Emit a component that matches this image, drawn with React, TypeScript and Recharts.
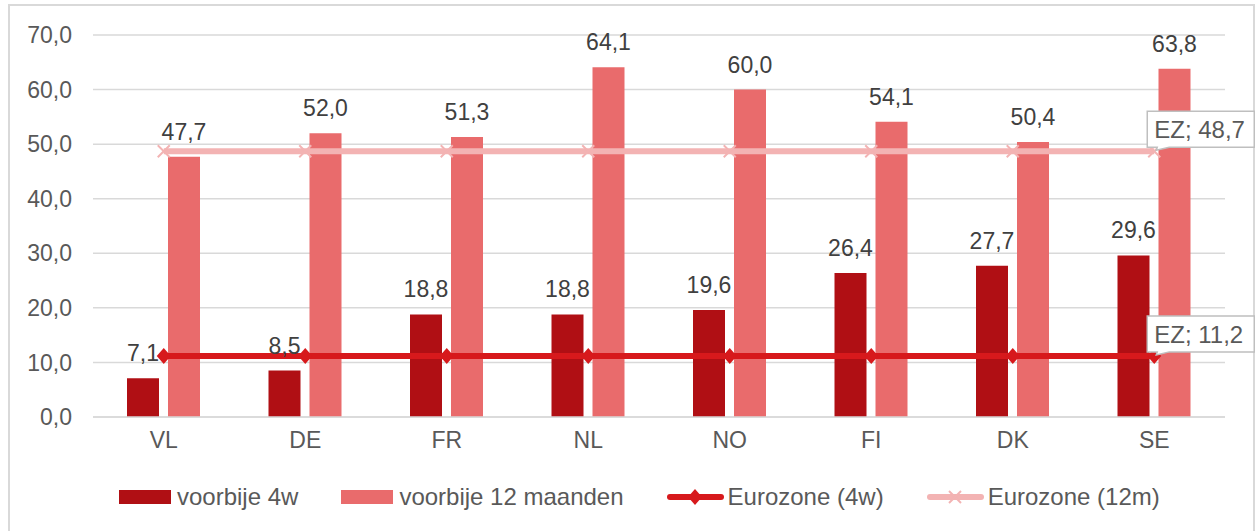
import { ComposedChart, Bar, Line, XAxis, YAxis, CartesianGrid, LabelList } from 'recharts';

const categories = ['VL', 'DE', 'FR', 'NL', 'NO', 'FI', 'DK', 'SE'];
const past4w = [7.1, 8.5, 18.8, 18.8, 19.6, 26.4, 27.7, 29.6];
const past12m = [47.7, 52.0, 51.3, 64.1, 60.0, 54.1, 50.4, 63.8];
const eurozone4w = [11.2, 11.2, 11.2, 11.2, 11.2, 11.2, 11.2, 11.2];
const eurozone12m = [48.7, 48.7, 48.7, 48.7, 48.7, 48.7, 48.7, 48.7];
const yTicks = [0, 10, 20, 30, 40, 50, 60, 70];

const DARK = '#b00f14';
const LIGHT = '#e96b6c';
const RED = '#d7191c';
const PINK = '#f3b3b3';
const GRID = '#d9d9d9';
const FONT = '"Liberation Sans", Arial, sans-serif';

const data = categories.map((cat, i) => ({
  cat,
  w4: past4w[i],
  m12: past12m[i],
  ez4: eurozone4w[i],
  ez12: eurozone12m[i],
}));

const fmt = (v: number) => Number(v).toFixed(1).replace('.', ',');

const Diamond = (props: any) => {
  const { cx, cy } = props;
  if (cx == null || cy == null) return null;
  return <path d={`M${cx},${cy - 8} L${cx + 7},${cy} L${cx},${cy + 8} L${cx - 7},${cy} Z`} fill={RED} />;
};

const Cross = (props: any) => {
  const { cx, cy } = props;
  if (cx == null || cy == null) return null;
  return (
    <g stroke={PINK} strokeWidth={2}>
      <line x1={cx - 6} y1={cy - 6} x2={cx + 6} y2={cy + 6} />
      <line x1={cx - 6} y1={cy + 6} x2={cx + 6} y2={cy - 6} />
    </g>
  );
};

const Callout = (props: any) => {
  const { x, y, index, value } = props;
  if (index !== categories.length - 1) return null;
  const left = x - 7;
  const right = x + 100;
  const bottom = y - 4;
  const top = bottom - 36;
  return (
    <g>
      <path
        d={`M${left},${top} H${right} V${bottom} H${left + 22} L${x + 2},${y - 1} L${left + 10},${bottom} H${left} Z`}
        fill="#fff"
        stroke="#bfbfbf"
        strokeWidth={1.5}
      />
      <text x={left + 7} y={top + 27} fontSize={24} fill="#595959" fontFamily={FONT}>
        {`EZ; ${fmt(value)}`}
      </text>
    </g>
  );
};

const legendItems = [
  { name: 'voorbije 4w', kind: 'bar', color: DARK },
  { name: 'voorbije 12 maanden', kind: 'bar', color: LIGHT },
  { name: 'Eurozone (4w)', kind: 'diamond', color: RED },
  { name: 'Eurozone (12m)', kind: 'cross', color: PINK },
];

function LegendSymbol({ kind, color }: { kind: string; color: string }) {
  if (kind === 'bar') {
    return <div style={{ width: 52, height: 14, background: color, marginRight: 6 }} />;
  }
  return (
    <svg width={57} height={18} style={{ marginRight: 4 }}>
      <line x1={3} y1={9} x2={54} y2={9} stroke={color} strokeWidth={6} strokeLinecap="round" />
      {kind === 'diamond' ? (
        <path d="M28,1 L35,9 L28,17 L21,9 Z" fill={color} />
      ) : (
        <g stroke={color} strokeWidth={2}>
          <line x1={22} y1={3} x2={34} y2={15} />
          <line x1={22} y1={15} x2={34} y2={3} />
        </g>
      )}
    </svg>
  );
}

export default function App() {
  return (
    <div style={{ position: 'absolute', left: 0, top: 0, width: 1258, height: 531, overflow: 'hidden', background: '#fff', fontFamily: FONT }}>
      <div
        style={{
          position: 'absolute',
          left: 8,
          top: 4,
          width: 1247,
          height: 560,
          border: `2px solid ${GRID}`,
          boxSizing: 'border-box',
        }}
      />
      <div style={{ position: 'absolute', left: 0, top: 0 }}>
        <ComposedChart
          width={1258}
          height={531}
          data={data}
          margin={{ top: 35, right: 33, left: 0, bottom: 84 }}
          barSize={32}
          barGap={9}
        >
          <CartesianGrid vertical={false} stroke={GRID} strokeWidth={1.5} />
          <XAxis
            dataKey="cat"
            height={30}
            axisLine={{ stroke: GRID, strokeWidth: 1.5 }}
            tickLine={false}
            tickSize={0}
            tickMargin={15}
            tick={{ fill: '#595959', fontSize: 23, fontFamily: FONT }}
          />
          <YAxis
            width={93}
            domain={[0, 70]}
            ticks={yTicks}
            tickFormatter={fmt}
            axisLine={false}
            tickLine={false}
            tickSize={0}
            tickMargin={21}
            tick={{ fill: '#595959', fontSize: 23, fontFamily: FONT }}
          />
          <Bar dataKey="w4" fill={DARK} isAnimationActive={false}>
            <LabelList dataKey="w4" position="top" offset={17} formatter={fmt} fill="#404040" fontSize={23} fontFamily={FONT} />
          </Bar>
          <Bar dataKey="m12" fill={LIGHT} isAnimationActive={false}>
            <LabelList dataKey="m12" position="top" offset={17} formatter={fmt} fill="#404040" fontSize={23} fontFamily={FONT} />
          </Bar>
          <Line dataKey="ez4" stroke={RED} strokeWidth={6} dot={<Diamond />} activeDot={false} isAnimationActive={false}>
            <LabelList dataKey="ez4" content={(p: any) => <Callout {...p} />} />
          </Line>
          <Line dataKey="ez12" stroke={PINK} strokeWidth={6} dot={<Cross />} activeDot={false} isAnimationActive={false}>
            <LabelList dataKey="ez12" content={(p: any) => <Callout {...p} />} />
          </Line>
        </ComposedChart>
      </div>
      <div
        style={{
          position: 'absolute',
          left: 119,
          top: 483,
          height: 28,
          display: 'flex',
          alignItems: 'center',
          gap: 43,
          fontSize: 24,
          color: '#595959',
          whiteSpace: 'nowrap',
        }}
      >
        {legendItems.map((it) => (
          <div key={it.name} style={{ display: 'flex', alignItems: 'center' }}>
            <LegendSymbol kind={it.kind} color={it.color} />
            <span>{it.name}</span>
          </div>
        ))}
      </div>
    </div>
  );
}
